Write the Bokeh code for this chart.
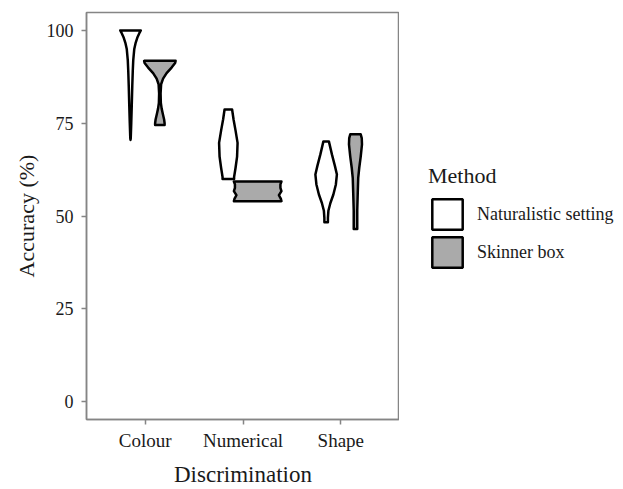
import numpy as np
from bokeh.plotting import figure
from bokeh.layouts import row
from bokeh.models import Range1d, FixedTicker, Legend, LegendItem, ColumnDataSource
from bokeh.embed import file_html
from bokeh.resources import INLINE

# ---- data ----
categories = ["Colour", "Numerical", "Shape"]
methods = ["Naturalistic setting", "Skinner box"]
y_ticks = [0, 25, 50, 75, 100]

# violin density profiles: accuracy levels and violin width (category units)
colour_nat_y = [100, 99.5, 98, 96.5, 95, 92, 89, 85, 80, 75, 71, 70.5]
colour_nat_w = [0.210, 0.189, 0.138, 0.102, 0.077, 0.056, 0.046, 0.036, 0.026, 0.015, 0.005, 0.0]
colour_skb_y = [91.8, 91.2, 90, 88.5, 87, 85.5, 83, 80.5, 79, 77.5, 76, 75, 74.5]
colour_skb_w = [0.322, 0.312, 0.240, 0.138, 0.066, 0.026, 0.015, 0.020, 0.036, 0.061, 0.087, 0.097, 0.097]

numerical_nat_y = [78.7, 76, 73, 69.7, 66, 63, 60.5, 60]
numerical_nat_w = [0.077, 0.107, 0.148, 0.189, 0.179, 0.148, 0.118, 0.118]
numerical_skb_y = [59.3, 58.5, 57.6, 56.7, 55.6, 54.6, 54.0]
numerical_skb_w = [0.486, 0.465, 0.465, 0.486, 0.435, 0.475, 0.486]

shape_nat_y = [70.1, 66.6, 63.5, 61.2, 58.5, 55.8, 53.5, 51.4, 49.5, 48.3]
shape_nat_w = [0.056, 0.118, 0.179, 0.220, 0.199, 0.148, 0.087, 0.046, 0.036, 0.036]
shape_skb_y = [72, 71, 69.3, 66, 63, 60.3, 56, 51.5, 46.5]
shape_skb_w = [0.107, 0.128, 0.133, 0.107, 0.077, 0.056, 0.046, 0.036, 0.036]

profiles = {
    ("Colour", "Naturalistic setting"): (colour_nat_y, colour_nat_w),
    ("Colour", "Skinner box"): (colour_skb_y, colour_skb_w),
    ("Numerical", "Naturalistic setting"): (numerical_nat_y, numerical_nat_w),
    ("Numerical", "Skinner box"): (numerical_skb_y, numerical_skb_w),
    ("Shape", "Naturalistic setting"): (shape_nat_y, shape_nat_w),
    ("Shape", "Skinner box"): (shape_skb_y, shape_skb_w),
}

# ---- style ----
FONT = "Liberation Serif"
fills = {"Naturalistic setting": "#ffffff", "Skinner box": "#aaaaaa"}
dodge = {"Naturalistic setting": -0.15, "Skinner box": 0.15}
GREY = "#858585"
TEXT = "#1a1a1a"

p = figure(width=399, height=489, output_backend="svg", toolbar_location=None,
           x_range=Range1d(0.4, 3.6), y_range=Range1d(-4.83, 104.83),
           min_border_left=86, min_border_right=0, min_border_top=12, min_border_bottom=68)
p.xgrid.visible = False
p.ygrid.visible = False
p.outline_line_color = GREY
p.outline_line_width = 1.5
p.background_fill_color = "white"
p.border_fill_color = "white"

for m in methods:
    xs, ys = [], []
    for i, c in enumerate(categories):
        yv, wv = profiles[(c, m)]
        cx = i + 1 + dodge[m]
        right_x = [cx + w / 2 for w in wv]
        left_x = [cx - w / 2 for w in reversed(wv)]
        xs.append(right_x + left_x)
        ys.append(list(yv) + list(reversed(yv)))
    src = ColumnDataSource(dict(xs=xs, ys=ys))
    p.patches("xs", "ys", source=src, fill_color=fills[m],
              line_color="black", line_width=2.5, line_join="round")

# axes
p.xaxis.ticker = FixedTicker(ticks=[1, 2, 3])
p.xaxis.major_label_overrides = {i + 1: c for i, c in enumerate(categories)}
p.yaxis.ticker = FixedTicker(ticks=y_ticks)
for ax in (p.xaxis[0], p.yaxis[0]):
    ax.axis_line_color = GREY
    ax.axis_line_width = 1.5
    ax.major_tick_line_color = GREY
    ax.major_tick_line_width = 1.5
    ax.major_tick_out = 5
    ax.major_tick_in = 0
    ax.minor_tick_line_color = None
    ax.major_label_text_font = FONT
    ax.major_label_text_color = TEXT
    ax.axis_label_text_font = FONT
    ax.axis_label_text_font_style = "normal"
    ax.axis_label_text_color = TEXT
p.xaxis.major_label_text_font_size = "19px"
p.yaxis.major_label_text_font_size = "18px"
p.xaxis.axis_label_text_font_size = "23px"
p.yaxis.axis_label_text_font_size = "22px"
p.xaxis.axis_label = "Discrimination"
p.yaxis.axis_label = "Accuracy (%)"
p.xaxis.major_label_standoff = 5
p.xaxis.axis_label_standoff = 8
p.yaxis.major_label_standoff = 8
p.yaxis.axis_label_standoff = 5

# ---- legend panel ----
lp = figure(width=224, height=489, output_backend="svg", toolbar_location=None,
            x_axis_type=None, y_axis_type=None, x_range=Range1d(0, 1), y_range=Range1d(0, 1),
            min_border_left=0, min_border_right=0, min_border_top=12, min_border_bottom=68)
lp.xgrid.visible = False
lp.ygrid.visible = False
lp.outline_line_color = None
lp.background_fill_color = "white"
lp.border_fill_color = "white"

items = []
for m in methods:
    # key-only renderer (a single empty NaN outline, draws nothing in the panel)
    r = lp.patches(xs=[np.array([np.nan])], ys=[np.array([np.nan])],
                   fill_color=fills[m], line_color="black", line_width=2.5)
    items.append(LegendItem(label=m, renderers=[r]))

legend = Legend(items=items, location=(29, 148), title="Method")
legend.title_text_font = FONT
legend.title_text_font_size = "22px"
legend.title_text_font_style = "normal"
legend.title_text_color = TEXT
legend.title_standoff = 6
legend.label_text_font = FONT
legend.label_text_font_size = "18px"
legend.label_text_color = TEXT
legend.glyph_width = 38
legend.glyph_height = 38
legend.label_standoff = 11
legend.spacing = 0
legend.padding = 0
legend.margin = 0
legend.border_line_color = None
legend.background_fill_alpha = 0
lp.add_layout(legend, "center")

open("out.html", "w").write(file_html(row(p, lp), INLINE))
